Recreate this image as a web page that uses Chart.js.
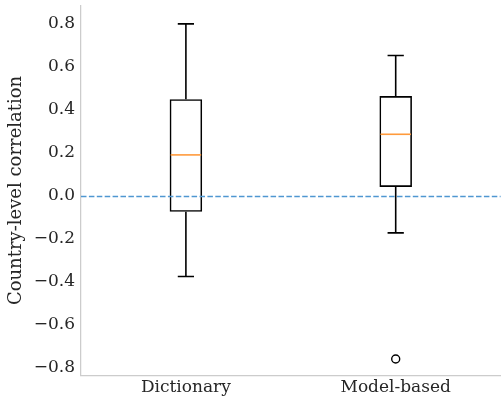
<!DOCTYPE html>
<html>
<head>
<meta charset="utf-8">
<script src="https://cdn.jsdelivr.net/npm/chart.js@4.4.0/dist/chart.umd.min.js"></script>
<style>
  html, body { margin: 0; padding: 0; background: #fff; overflow: hidden; }
  canvas { display: block; }
</style>
</head>
<body>
<canvas id="chart" width="506" height="398"></canvas>
<script>
// box plot values
const categories = ["Dictionary", "Model-based"];
const whiskerLow = [-0.376, -0.173];
const q1 = [-0.075, 0.041];
const median = [0.19, 0.286];
const q3 = [0.449, 0.464];
const whiskerHigh = [0.8, 0.653];
const outliers = [[], [-0.76]];
const yTicks = [-0.8, -0.6, -0.4, -0.2, 0.0, 0.2, 0.4, 0.6, 0.8];
const refLine = 0;

const serif = "'DejaVu Serif', serif";
const textColor = "#262626";

// whiskers, caps, medians and the dashed reference line
const boxExtras = {
    id: "boxExtras",
    afterDatasetsDraw(chart) {
        const { ctx, chartArea, scales: { x, y } } = chart;
        const boxes = chart.getDatasetMeta(0).data;
        ctx.save();
        ctx.lineWidth = 1.6;
        categories.forEach((c, i) => {
            const cx = x.getPixelForValue(i);
            const half = boxes[i].width / 2;
            const cap = half / 2;
            ctx.strokeStyle = "#000";
            ctx.beginPath();
            ctx.moveTo(cx, y.getPixelForValue(q1[i]));
            ctx.lineTo(cx, y.getPixelForValue(whiskerLow[i]));
            ctx.moveTo(cx, y.getPixelForValue(q3[i]));
            ctx.lineTo(cx, y.getPixelForValue(whiskerHigh[i]));
            ctx.moveTo(cx - cap, y.getPixelForValue(whiskerLow[i]));
            ctx.lineTo(cx + cap, y.getPixelForValue(whiskerLow[i]));
            ctx.moveTo(cx - cap, y.getPixelForValue(whiskerHigh[i]));
            ctx.lineTo(cx + cap, y.getPixelForValue(whiskerHigh[i]));
            ctx.stroke();

            ctx.strokeStyle = "#ff9a3c";
            ctx.beginPath();
            ctx.moveTo(cx - half + 1, y.getPixelForValue(median[i]));
            ctx.lineTo(cx + half - 1, y.getPixelForValue(median[i]));
            ctx.stroke();
        });

        // snap to the pixel grid so the dashes stay crisp
        const y0 = Math.round(y.getPixelForValue(refLine)) + 0.5;
        ctx.strokeStyle = "#4f97d1";
        ctx.lineWidth = 1.5;
        ctx.setLineDash([5.5, 2.4]);
        ctx.beginPath();
        ctx.moveTo(chartArea.left, y0);
        ctx.lineTo(chartArea.right, y0);
        ctx.stroke();
        ctx.restore();
    }
};

const outlierPoints = [];
outliers.forEach((list, i) => {
    list.forEach(v => outlierPoints.push({ x: categories[i], y: v }));
});

new Chart(document.getElementById("chart"), {
    type: "bar",
    data: {
        labels: categories,
        datasets: [
            {
                data: categories.map((c, i) => [q1[i], q3[i]]),
                backgroundColor: "rgba(0,0,0,0)",
                borderColor: "#000",
                borderWidth: 1.6,
                borderSkipped: false,
                categoryPercentage: 1,
                barPercentage: 0.155
            },
            {
                type: "line",
                data: outlierPoints,
                showLine: false,
                pointRadius: 4,
                pointBorderWidth: 1.4,
                pointBorderColor: "#000",
                pointBackgroundColor: "#fff"
            }
        ]
    },
    plugins: [boxExtras],
    options: {
        responsive: false,
        animation: false,
        layout: { padding: { top: 5, right: 0, left: 0, bottom: 0 } },
        plugins: { legend: { display: false }, tooltip: { enabled: false } },
        scales: {
            x: {
                grid: { display: false, drawTicks: false },
                border: { color: "#cccccc", width: 1.25 },
                ticks: { color: textColor, font: { family: serif, size: 17 }, padding: 2 },
                afterFit: s => { s.height = 22.5; s.paddingLeft = 0; s.paddingRight = 0; }
            },
            y: {
                min: -0.837,
                max: 0.886,
                grid: { display: false, drawTicks: false },
                border: { color: "#cccccc", width: 1.25 },
                afterBuildTicks: s => { s.ticks = yTicks.map(v => ({ value: v })); },
                ticks: {
                    color: textColor,
                    font: { family: serif, size: 17 },
                    padding: 6,
                    callback: v => (v < -1e-9 ? "\u2212" : "") + Math.abs(v).toFixed(1)
                },
                title: {
                    display: true,
                    text: "Country-level correlation",
                    color: textColor,
                    font: { family: serif, size: 18 },
                    padding: { top: 6, bottom: 0 }
                },
                afterFit: s => { s.width = 81; s.paddingTop = 0; s.paddingBottom = 0; }
            }
        }
    }
});
</script>
</body>
</html>
